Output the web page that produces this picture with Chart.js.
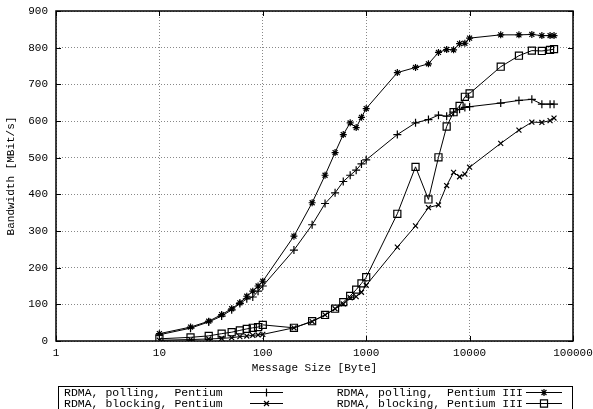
<!DOCTYPE html>
<html>
<head>
<meta charset="utf-8">
<script src="https://cdn.jsdelivr.net/npm/chart.js@4.4.0/dist/chart.umd.min.js"></script>
<style>
  body { margin: 0; background: #fff; }
</style>
</head>
<body>
<canvas id="bw" width="593" height="409"></canvas>
<script>
// message sizes in byte (x axis, log scale)
const sizes = [10, 20, 30, 40, 50, 60, 70, 80, 90, 100,
  200, 300, 400, 500, 600, 700, 800, 900, 1000,
  2000, 3000, 4000, 5000, 6000, 7000, 8000, 9000, 10000,
  20000, 30000, 40000, 50000, 60000, 65536]

// bandwidth in MBit/s
const pollingP = [17, 35, 52, 68, 85, 102, 115, 120, 136, 150,
  248, 317, 375, 404, 435, 452, 466, 483, 494,
  563, 595, 604, 616, 613, 624, 632, 637, 639,
  649, 656, 659, 646, 646, 646]
const blockingP = [2, 4, 5.5, 7, 9, 12, 13.5, 15.5, 16.5, 18,
  36, 53, 71, 88, 101, 118, 121, 133, 152,
  256, 314, 364, 371, 424, 460, 448, 455, 474,
  539, 575, 597, 596, 601, 608]
const pollingP3 = [20, 38, 54, 72, 88, 104, 122, 136, 150, 163,
  286, 377, 452, 514, 563, 595, 582, 610, 634,
  732, 746, 756, 787, 795, 794, 811, 812, 826,
  835, 835, 836, 833, 833, 833]
const blockingP3 = [6, 10, 14, 20, 24, 29, 33, 36, 38, 44,
  36, 54, 71, 88, 106, 123, 140, 157, 174,
  347, 475, 386, 501, 585, 624, 641, 666, 675,
  748, 778, 792, 791, 794, 796]

const xTicks = [1, 10, 100, 1000, 10000, 100000]
const seriesNames = ['RDMA, polling,  Pentium', 'RDMA, blocking, Pentium',
  'RDMA, polling,  Pentium III', 'RDMA, blocking, Pentium III']

const monoFont = "'Liberation Mono', 'Courier New', monospace"

function points(vals) {
    return sizes.map((s, i) => ({ x: s, y: vals[i] }))
}

function series(name, vals, style, radius) {
    return {
        label: name,
        data: points(vals),
        borderColor: '#000',
        backgroundColor: 'rgba(0,0,0,0)',
        borderWidth: 1,
        pointStyle: style,
        pointRadius: radius,
        pointBorderWidth: 1.2,
        pointBorderColor: '#000',
        pointBackgroundColor: 'rgba(0,0,0,0)',
        tension: 0
    }
}

// plot frame with inward ticks + gnuplot like legend box at the bottom
const framePlugin = {
    id: 'frame',
    afterDatasetsDraw(chart) {
        const a = chart.chartArea
        const ctx = chart.ctx
        const xs = chart.scales.x
        const ys = chart.scales.y
        ctx.save()
        ctx.strokeStyle = '#000'
        ctx.lineWidth = 1
        ctx.beginPath()
        xs.ticks.forEach(t => {
            const px = Math.round(xs.getPixelForValue(t.value)) + 0.5
            ctx.moveTo(px, a.bottom); ctx.lineTo(px, a.bottom - 5)
            ctx.moveTo(px, a.top); ctx.lineTo(px, a.top + 5)
        })
        ys.ticks.forEach(t => {
            const py = Math.round(ys.getPixelForValue(t.value)) + 0.5
            ctx.moveTo(a.left, py); ctx.lineTo(a.left + 5, py)
            ctx.moveTo(a.right, py); ctx.lineTo(a.right - 5, py)
        })
        ctx.stroke()
        ctx.lineWidth = 1.5
        ctx.strokeRect(a.left, a.top, a.right - a.left, a.bottom - a.top)
        ctx.restore()
    },
    afterDraw(chart) {
        const ctx = chart.ctx
        const ds = chart.data.datasets
        ctx.save()
        ctx.strokeStyle = '#000'
        ctx.lineWidth = 1
        ctx.strokeRect(58.5, 386.5, 514, 40)
        ctx.font = '11.5px ' + monoFont
        ctx.fillStyle = '#000'
        ctx.textBaseline = 'middle'
        const rows = [392.5, 403.5]
        // left column: Pentium
        for (let i = 0; i < 2; i++) {
            ctx.textAlign = 'left'
            ctx.fillText(ds[i].label, 64, rows[i])
            drawSample(ctx, ds[i], 250, 283, rows[i])
        }
        // right column: Pentium III
        for (let i = 0; i < 2; i++) {
            ctx.textAlign = 'right'
            ctx.fillText(ds[i + 2].label, 523, rows[i])
            drawSample(ctx, ds[i + 2], 526, 562, rows[i])
        }
        ctx.restore()
    }
}

function drawSample(ctx, d, x0, x1, y) {
    ctx.save()
    ctx.strokeStyle = '#000'
    ctx.lineWidth = 1
    ctx.beginPath()
    ctx.moveTo(x0, y)
    ctx.lineTo(x1, y)
    ctx.stroke()
    ctx.fillStyle = 'rgba(0,0,0,0)'
    ctx.lineWidth = d.pointBorderWidth
    if (Chart.helpers && Chart.helpers.drawPoint) {
        Chart.helpers.drawPoint(ctx, { pointStyle: d.pointStyle, radius: d.pointRadius, borderWidth: d.pointBorderWidth, rotation: 0 }, (x0 + x1) / 2, y)
    }
    ctx.restore()
}

const ctx = document.getElementById('bw')

new Chart(ctx, {
    type: 'line',
    data: {
        datasets: [
            series(seriesNames[0], pollingP, 'cross', 4),
            series(seriesNames[1], blockingP, 'crossRot', 3.5),
            series(seriesNames[2], pollingP3, 'star', 3.5),
            series(seriesNames[3], blockingP3, 'rect', 5)
        ]
    },
    options: {
        responsive: false,
        animation: false,
        layout: { padding: { top: 11, right: 20, left: 0, bottom: 32 } },
        plugins: {
            legend: { display: false },
            tooltip: { enabled: false }
        },
        scales: {
            x: {
                type: 'logarithmic',
                min: 1,
                max: 100000,
                afterBuildTicks: function (scale) {
                    scale.ticks = xTicks.map(v => ({ value: v }))
                },
                afterFit: function (scale) {
                    scale.height = 36
                    scale.paddingLeft = 0
                    scale.paddingRight = 0
                },
                ticks: {
                    color: '#000',
                    padding: 5,
                    maxRotation: 0,
                    font: { family: monoFont, size: 11 },
                    callback: function (v) { return String(v) }
                },
                grid: {
                    color: '#888',
                    lineWidth: 1,
                    drawTicks: false
                },
                border: { display: false, dash: [1, 2] },
                title: {
                    display: true,
                    text: 'Message Size [Byte]',
                    color: '#000',
                    font: { family: monoFont, size: 11 },
                    padding: { top: 0, bottom: 2 }
                }
            },
            y: {
                min: 0,
                max: 900,
                afterFit: function (scale) {
                    scale.width = 56
                    scale.paddingTop = 0
                    scale.paddingBottom = 0
                },
                ticks: {
                    stepSize: 100,
                    color: '#000',
                    padding: 8,
                    font: { family: monoFont, size: 11 }
                },
                grid: {
                    color: '#888',
                    lineWidth: 1,
                    drawTicks: false
                },
                border: { display: false, dash: [1, 2] },
                title: {
                    display: true,
                    text: 'Bandwidth [MBit/s]',
                    color: '#000',
                    font: { family: monoFont, size: 11 },
                    padding: { top: 4, bottom: 0 }
                }
            }
        }
    },
    plugins: [framePlugin]
})
</script>
</body>
</html>
